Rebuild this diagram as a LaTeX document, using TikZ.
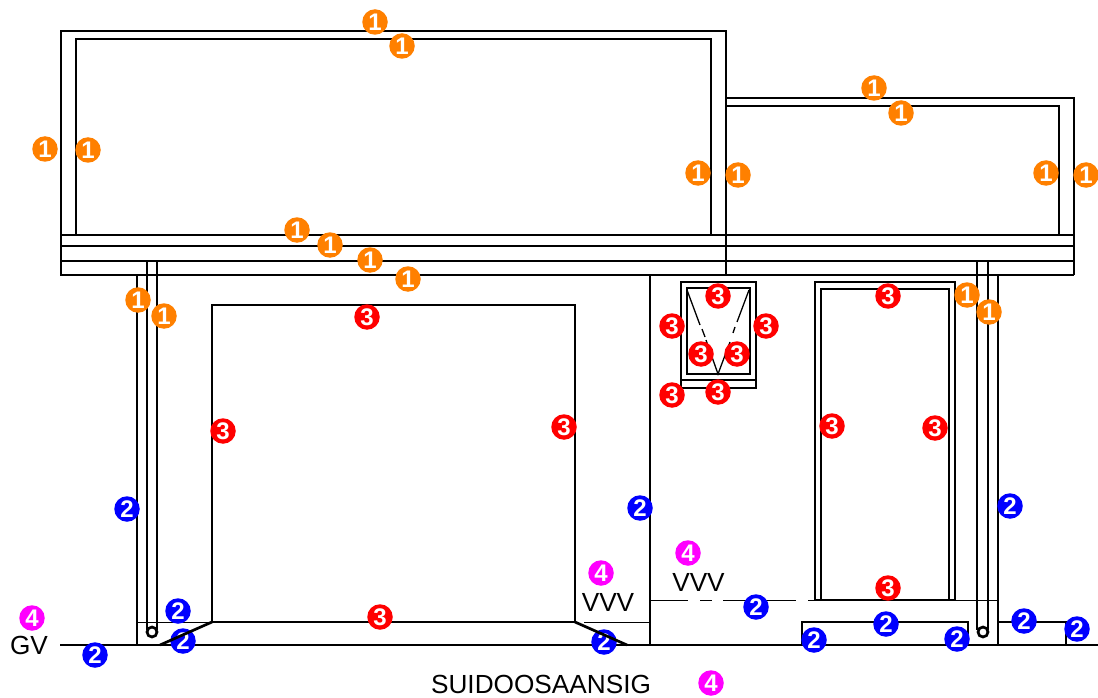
\documentclass[tikz,border=0pt]{standalone}
\usepackage{fontspec}
\setmainfont{Liberation Sans}
\definecolor{mkorange}{RGB}{255,128,0}
\definecolor{mkred}{RGB}{255,0,0}
\definecolor{mkblue}{RGB}{0,0,255}
\definecolor{mkmag}{RGB}{255,0,255}
\tikzset{
  thick line/.style={line width=2.7bp,black,line cap=butt,line join=miter},
  mid line/.style={line width=2bp,black},
  thin line/.style={line width=1bp,black},
  mk/.style={circle,inner sep=0pt,minimum size=25.5bp,text=white,font=\bfseries\fontsize{24bp}{24bp}\selectfont},
  label text/.style={inner sep=0pt,font=\fontsize{26.2bp}{26.2bp}\selectfont,text=black}
}
\begin{document}
\begin{tikzpicture}[x=1bp,y=-1bp]
\useasboundingbox (0,0) rectangle (1098,698);
% main upper volume
\draw[thick line] (61,235) -- (61,31) -- (726,31) -- (726,275);
\draw[thick line] (76,235) -- (76,39) -- (711,39) -- (711,235);
% lower right upper volume
\draw[thick line] (726,98) -- (1074,98) -- (1074,275);
\draw[thick line] (726,106) -- (1059,106) -- (1059,235);
% fascia
\draw[thick line] (61,235) -- (1074,235);
\draw[thick line] (61,246) -- (1074,246);
\draw[thick line] (61,261) -- (1074,261);
\draw[thick line] (61,275) -- (1074,275);
\draw[thick line] (61,235) -- (61,276);
% left post
\draw[mid line] (137,275) -- (137,645);
\draw[thick line] (147,261) -- (147,630);
\draw[thick line] (157,261) -- (157,630);
\draw[thick line] (152,632) circle (5);
% right post
\draw[thick line] (977,261) -- (977,630);
\draw[thick line] (988,261) -- (988,630);
\draw[thick line] (998,275) -- (998,645);
\draw[thick line] (983,632) circle (5);
% garage door
\draw[thick line] (212,622) -- (212,305) -- (575,305) -- (575,622);
\draw[thick line] (212,622) -- (575,622);
\draw[thin line] (137,622) -- (212,622);
\draw[thin line] (584,622) -- (650,622);
% wall
\draw[thick line] (650,275) -- (650,645);
% ground
\draw[thick line] (60,645) -- (1098,645);
% step
\draw[thick line] (802,645) -- (802,622) -- (968,622) -- (968,645);
% right ledge
\draw[thick line] (998,622) -- (1066,622) -- (1066,645);
% door
\draw[thick line] (815,600) -- (815,282) -- (955,282) -- (955,600);
\draw[thick line] (821,600) -- (821,289) -- (949,289) -- (949,600);
\draw[thick line] (815,600) -- (955,600);
% sill line
\draw[thin line] (650,600) -- (688,600);
\draw[thin line] (700,600) -- (712,600);
\draw[thin line] (723,600) -- (796,600);
\draw[thin line] (808,600) -- (815,600);
\draw[thin line] (955,600) -- (998,600);
% window
\draw[thick line] (681,380) -- (681,282) -- (756,282) -- (756,388) -- (681,388) -- cycle;
\draw[thick line] (687,374) rectangle (750,288);
\draw[mid line] (681,380) -- (756,380);
\draw[line width=1.3bp] (687,290) -- (700,325);
\draw[line width=1.3bp] (702,329) -- (705,337);
\draw[line width=1.3bp] (706,340) -- (718,374) -- (730,342);
\draw[line width=1.3bp] (733,333) -- (735,327);
\draw[line width=1.3bp] (737,322) -- (749,290);
% labels
\node[label text] (gv) at (29,645.5) {GV};
\node[label text] (vvva) at (608,602) {VVV};
\node[label text] (vvvb) at (698.5,582) {VVV};
\node[label text] (title) at (541,684) {SUIDOOSAANSIG};
% markers
\foreach \n/\a/\b in {1/375/22,2/402/46,3/45/149,4/88/150,5/874/88,6/901/113,7/698/173,8/738/175,9/1046/173,10/1086/175,11/297/230,12/330/245,13/370/260,14/408/279,15/138/300,16/164/316,17/967/295,18/989/312}
  \node[mk,fill=mkorange] (o\n) at (\a,\b) {1};
\foreach \n/\a/\b in {1/127/509,2/640/508,3/1010/506,4/178/611,5/183/641,6/95/655,7/604/642,8/756/607,9/886/624,10/814/640,11/957/639,12/1024/621,13/1077/629}
  \node[mk,fill=mkblue] (b\n) at (\a,\b) {2};
\foreach \n/\a/\b in {1/367/317,2/223/431,3/564/427,4/380/617,5/718/296,6/672/326,7/766/326,8/701/354,9/737/354,10/672/395,11/718/392,12/888/296,13/832/426,14/935/428,15/888/588}
  \node[mk,fill=mkred] (r\n) at (\a,\b) {3};
\foreach \n/\a/\b in {1/32/618,2/601/573,3/688/553,4/711/683}
  \node[mk,fill=mkmag] (m\n) at (\a,\b) {4};
% slopes run over the markers
\draw[thick line] (212,622) -- (160,645);
\draw[thick line] (575,622) -- (627,645);
\end{tikzpicture}
\end{document}
